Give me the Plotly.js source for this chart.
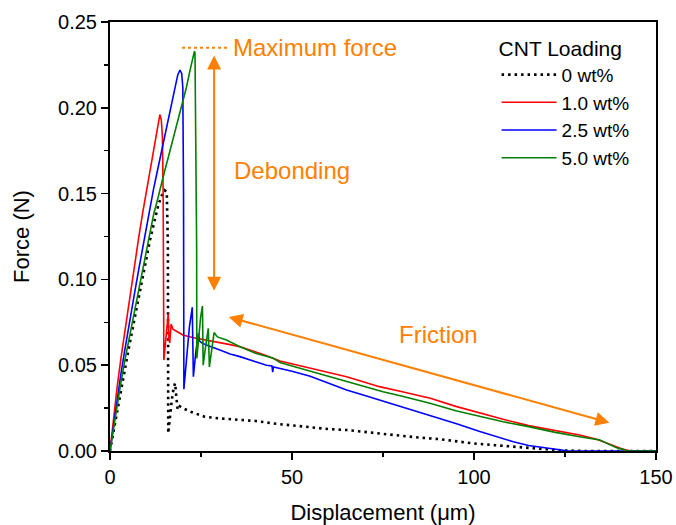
<!DOCTYPE html>
<html>
<head>
<meta charset="utf-8">
<script src="https://cdn.plot.ly/plotly-3.0.1.min.js"></script>
<style>html,body{margin:0;padding:0;background:#fff;}#chart{width:676px;height:525px;}</style>
</head>
<body>
<div id="chart"></div>
<script>
// ---- Data ----
const seriesNames = ["0 wt%", "1.0 wt%", "2.5 wt%", "5.0 wt%"];

const x0 = [0,1,2,3,4,5,6,7,8,9,10,11,12,13,14,15.0,15.6,15.9,16.0,16.5,17.0,17.5,17.9,18.2,18.6,19.2,20,22,26,30,36,40,45,50,55,60,65,70,75,80,85,90,95,100,105,110,115,120,125,130,150];
const y0 = [0,0.012,0.024,0.035,0.047,0.058,0.069,0.080,0.090,0.101,0.113,0.123,0.132,0.141,0.148,0.152,0.151,0.120,0.0103,0.022,0.030,0.037,0.0395,0.032,0.024,0.026,0.025,0.023,0.020,0.019,0.018,0.0175,0.016,0.0148,0.0138,0.0128,0.0122,0.011,0.0098,0.009,0.0078,0.007,0.0055,0.0044,0.0035,0.0026,0.0016,0.001,0.0003,0,0];

const x1 = [0,1,2,3,4,5,6,7,8,9,10,11,12,12.8,13.3,13.7,14.1,14.4,14.6,14.8,15.2,15.6,16.0,16.2,16.4,16.8,17.3,18.5,20,23,26.5,30,33,36,40,43,46.7,50,55,60,65,70,74,80,88,95,101.6,108,115,122,129,133.7,137,140,142,143,150];
const y1 = [0,0.020,0.038,0.054,0.069,0.084,0.098,0.112,0.126,0.139,0.151,0.163,0.175,0.186,0.193,0.196,0.193,0.183,0.150,0.053,0.062,0.074,0.080,0.065,0.063,0.074,0.071,0.0695,0.0676,0.066,0.0647,0.0632,0.062,0.0606,0.0578,0.0555,0.0524,0.0508,0.048,0.0458,0.0433,0.040,0.0375,0.0347,0.0307,0.026,0.022,0.0185,0.0148,0.0122,0.0093,0.0068,0.004,0.0018,0.0005,0,0];

const x2 = [0,1,2,3,4,5,6,7,8,9,10,11,12,13,14,15,16,17,17.9,18.6,19.2,19.7,20.0,20.2,20.3,21.0,21.8,22.6,22.9,23.6,24.3,24.6,25.2,26.5,28,30,33,35.7,40,43,44.5,44.7,44.9,46.7,50,55,60,65,70,75,83.3,90,95,101.6,106,110.8,115,120,124,126,150];
const y2 = [0,0.016,0.031,0.045,0.058,0.071,0.083,0.095,0.107,0.119,0.131,0.142,0.153,0.163,0.173,0.183,0.193,0.203,0.213,0.219,0.222,0.220,0.212,0.150,0.036,0.055,0.072,0.0837,0.0433,0.058,0.0686,0.064,0.063,0.0618,0.0607,0.059,0.0565,0.055,0.052,0.050,0.0495,0.046,0.049,0.0482,0.0465,0.0435,0.0395,0.0355,0.0323,0.029,0.0239,0.0195,0.016,0.0113,0.0083,0.0054,0.0032,0.0016,0.0003,0,0];

const x3 = [0,1,2,3,4,5,6,7,8,9,10,11,12,13,14,15,16,17,18,19,20,21,22,22.7,23.2,23.35,23.5,23.8,23.85,24.3,24.9,25.4,25.6,26.2,27.0,27.3,27.9,28.6,29.5,32,35.7,40,44.9,46.7,50,55,60,65,70,75,80,87.9,95,101.6,108,115,122,129,134.6,137,139,141,142,150];
const y3 = [0,0.014,0.028,0.040,0.052,0.063,0.074,0.085,0.096,0.107,0.118,0.129,0.138,0.146,0.155,0.163,0.171,0.179,0.187,0.195,0.203,0.212,0.222,0.229,0.233,0.232,0.200,0.120,0.054,0.066,0.078,0.0845,0.050,0.060,0.0715,0.049,0.059,0.069,0.0665,0.0647,0.0608,0.057,0.054,0.0515,0.0495,0.0465,0.0435,0.0404,0.0375,0.0345,0.032,0.0278,0.0235,0.020,0.017,0.0142,0.011,0.0083,0.0064,0.004,0.002,0.0008,0,0];

const xTickVals = [0, 50, 100, 150];
const yTickVals = [0, 0.05, 0.10, 0.15, 0.20, 0.25];

// annotation anchor values (data units)
const maxForceY = 0.2350;
const maxForceLineX = [19.8, 32.4];
const debondArrowX = 28.6, debondArrowY = [0.0925, 0.2305];
const frictionArrow = {x: [32.2, 137.2], y: [0.0783, 0.0165]};

// ---- Styles ----
const ORANGE = "#FF8000";
const FONT = "Arial, 'Liberation Sans', sans-serif";

const traces = [
  {x: x0, y: y0, name: seriesNames[0], mode: "lines", line: {color: "#000000", width: 2.6, dash: "2.5px,4px"}},
  {x: x1, y: y1, name: seriesNames[1], mode: "lines", line: {color: "#FF0000", width: 1.6}},
  {x: x2, y: y2, name: seriesNames[2], mode: "lines", line: {color: "#0000FF", width: 1.6}},
  {x: x3, y: y3, name: seriesNames[3], mode: "lines", line: {color: "#008000", width: 1.6}}
];

const axisCommon = {
  showgrid: false, zeroline: false, showline: true, linecolor: "#000", linewidth: 2,
  mirror: true, ticks: "outside", ticklen: 7, tickwidth: 1.6, tickcolor: "#000",
  tickfont: {family: FONT, size: 20, color: "#000"}
};

const layout = {
  width: 676, height: 525,
  margin: {l: 110, r: 20, t: 22, b: 74},
  paper_bgcolor: "#fff", plot_bgcolor: "#fff",
  font: {family: FONT, color: "#000"},
  xaxis: Object.assign({}, axisCommon, {
    range: [0, 150], tickvals: xTickVals, ticktext: xTickVals.map(String),
    minor: {ticks: "outside", ticklen: 4, tickwidth: 1.4, tickcolor: "#000", dtick: 25, tick0: 0},
    title: {text: "Displacement (\u03bcm)", font: {family: FONT, size: 22, color: "#000"}, standoff: 18}
  }),
  yaxis: Object.assign({}, axisCommon, {
    range: [0, 0.25], tickvals: yTickVals, ticktext: yTickVals.map(v => v.toFixed(2)),
    minor: {ticks: "outside", ticklen: 4, tickwidth: 1.4, tickcolor: "#000", dtick: 0.025, tick0: 0},
    title: {text: "Force (N)", font: {family: FONT, size: 22, color: "#000"}, standoff: 22}
  }),
  showlegend: true,
  legend: {
    x: 0.708, y: 0.985, xanchor: "left", yanchor: "top",
    bgcolor: "rgba(0,0,0,0)", borderwidth: 0,
    font: {family: FONT, size: 19, color: "#000"},
    title: {text: "CNT Loading", font: {family: FONT, size: 21, color: "#000"}},
    itemwidth: 55, tracegroupgap: 0
  },
  shapes: [
    {type: "line", xref: "x", yref: "y", x0: maxForceLineX[0], x1: maxForceLineX[1], y0: maxForceY, y1: maxForceY,
     line: {color: ORANGE, width: 2, dash: "dot"}}
  ],
  annotations: [
    {xref: "x", yref: "y", x: 33.2, y: 0.2354, xanchor: "left", yanchor: "middle", showarrow: false,
     text: "Maximum force", font: {family: FONT, size: 24, color: ORANGE}},
    {xref: "x", yref: "y", x: 33.4, y: 0.1635, xanchor: "left", yanchor: "middle", showarrow: false,
     text: "Debonding", font: {family: FONT, size: 24, color: ORANGE}},
    {xref: "x", yref: "y", x: 78.8, y: 0.0679, xanchor: "left", yanchor: "middle", showarrow: false,
     text: "Friction", font: {family: FONT, size: 24, color: ORANGE}},
    {xref: "x", yref: "y", axref: "x", ayref: "y", x: debondArrowX, y: debondArrowY[1], ax: debondArrowX, ay: debondArrowY[0],
     text: "", showarrow: true, arrowside: "end+start", arrowhead: 2, arrowsize: 1.4, arrowwidth: 2, arrowcolor: ORANGE},
    {xref: "x", yref: "y", axref: "x", ayref: "y", x: frictionArrow.x[1], y: frictionArrow.y[1], ax: frictionArrow.x[0], ay: frictionArrow.y[0],
     text: "", showarrow: true, arrowside: "end+start", arrowhead: 2, arrowsize: 1.4, arrowwidth: 2, arrowcolor: ORANGE}
  ]
};

Plotly.newPlot("chart", traces, layout, {staticPlot: true, displayModeBar: false});
</script>
</body>
</html>
